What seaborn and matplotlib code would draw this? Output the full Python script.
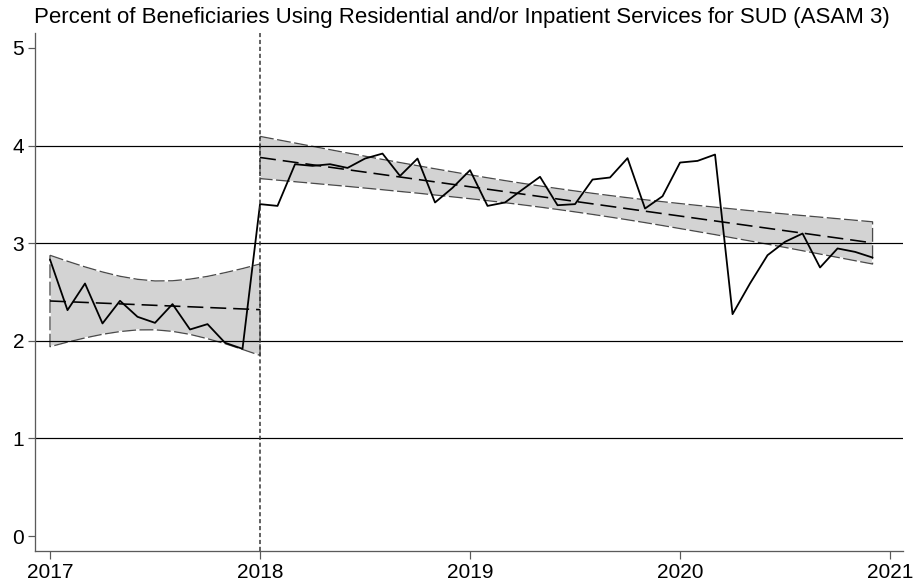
import numpy as np
import pandas as pd
import matplotlib
matplotlib.use("Agg")
import matplotlib.pyplot as plt
import seaborn as sns

# ---------------- data ----------------
title = "Percent of Beneficiaries Using Residential and/or Inpatient Services for SUD (ASAM 3)"
year_ticks = [2017, 2018, 2019, 2020, 2021]
y_ticks = [0, 1, 2, 3, 4, 5]
cutoff_year = 2018

# monthly observations Jan 2017 - Dec 2017
pre_values = [2.833, 2.314, 2.587, 2.178, 2.410, 2.246, 2.184, 2.376, 2.116,
              2.171, 1.980, 1.918]
# monthly observations Jan 2018 - Dec 2020
post_values = [3.400, 3.382, 3.809, 3.792, 3.809, 3.771, 3.867, 3.918, 3.689,
               3.867, 3.417, 3.567, 3.748, 3.382, 3.417, 3.550, 3.680, 3.389,
               3.400, 3.652, 3.673, 3.871, 3.355, 3.481, 3.826, 3.843, 3.908,
               2.273, 2.588, 2.877, 3.014, 3.099, 2.751, 2.946, 2.911, 2.853]

# linear fits (month index from Jan 2017)
pre_fit_months = [0, 12]
pre_fit_values = [2.408, 2.319]
post_fit_months = [12, 47]
post_fit_values = [3.878, 3.003]

# confidence bands, one value per month
pre_band_months = list(range(0, 13))
pre_band_upper = [2.876, 2.815, 2.757, 2.705, 2.661, 2.630, 2.613, 2.615, 2.632,
                  2.660, 2.698, 2.740, 2.787]
pre_band_lower = [1.940, 1.987, 2.030, 2.067, 2.095, 2.112, 2.113, 2.097, 2.066,
                  2.022, 1.971, 1.912, 1.851]
post_band_months = list(range(12, 48))
post_band_upper = [4.094, 4.060, 4.026, 3.992, 3.958, 3.924, 3.891, 3.858, 3.826,
                   3.794, 3.762, 3.731, 3.700, 3.670, 3.641, 3.613, 3.586, 3.560,
                   3.535, 3.511, 3.488, 3.466, 3.445, 3.425, 3.406, 3.387, 3.369,
                   3.351, 3.333, 3.316, 3.299, 3.283, 3.267, 3.251, 3.235, 3.219]
post_band_lower = [3.662, 3.646, 3.630, 3.614, 3.598, 3.582, 3.565, 3.548, 3.530,
                   3.513, 3.494, 3.475, 3.456, 3.436, 3.415, 3.393, 3.370, 3.346,
                   3.321, 3.295, 3.268, 3.240, 3.211, 3.181, 3.150, 3.119, 3.088,
                   3.055, 3.023, 2.990, 2.957, 2.923, 2.889, 2.855, 2.821, 2.787]

# ---------------- styling ----------------
sns.set_style("white")
plt.rcParams["font.family"] = ["Liberation Sans", "DejaVu Sans"]
plt.rcParams["lines.scale_dashes"] = False

PX = 0.72  # points per pixel at dpi 100


def to_year(months):
    return 2017 + np.asarray(months, dtype=float) / 12.0


obs = pd.DataFrame({
    "x": to_year(np.arange(len(pre_values) + len(post_values))),
    "y": pre_values + post_values,
})
fits = pd.DataFrame({
    "x": np.concatenate([to_year(pre_fit_months), to_year(post_fit_months)]),
    "y": pre_fit_values + post_fit_values,
    "seg": ["pre"] * len(pre_fit_values) + ["post"] * len(post_fit_values),
})

fig = plt.figure(figsize=(9.13, 5.87), dpi=100)
ax = fig.add_axes([35 / 913, 1 - 550.7 / 587, (903 - 35) / 913, (550.7 - 33.3) / 587])

band_fill = "#d3d3d3"
edge_dark = "#4a4a4a"
for months, up, lo in [(pre_band_months, pre_band_upper, pre_band_lower),
                       (post_band_months, post_band_upper, post_band_lower)]:
    xs = to_year(months)
    ax.fill_between(xs, lo, up, color=band_fill, lw=0, zorder=1)
    ox = np.concatenate([xs, xs[::-1], xs[:1]])
    oy = np.concatenate([np.asarray(up), np.asarray(lo)[::-1], np.asarray(up)[:1]])
    ax.plot(ox, oy, color="white", lw=1.0 * PX * 1.3, zorder=1.5)
    ax.plot(ox, oy, color=edge_dark, lw=1.0 * PX * 1.3, dashes=(10, 2.5), zorder=1.6)

# horizontal grid lines at interior ticks
for yv in y_ticks[1:-1]:
    ax.axhline(yv, color="black", lw=1.0 * PX * 1.2, zorder=2)

# linear fits (dashed)
for seg in ["pre", "post"]:
    sub = fits[fits["seg"] == seg]
    sns.lineplot(data=sub, x="x", y="y", ax=ax, color="black", lw=1.6 * PX,
                 dashes=False, zorder=3, legend=False)
for line in ax.lines[-2:]:
    line.set_dashes((11.5, 5))

# observed series
sns.lineplot(data=obs, x="x", y="y", ax=ax, color="black", lw=1.8 * PX,
             zorder=4, legend=False)

# intervention line
ax.axvline(cutoff_year, color="#333333", lw=1.5 * PX, dashes=(3, 2), zorder=5)

ax.set_xlim(2017 - 0.857 / 12, 2017 + 48.74 / 12)
ax.set_ylim(-0.15, 5.15)
ax.set_xticks(year_ticks)
ax.set_xticklabels([str(y) for y in year_ticks])
ax.set_yticks(y_ticks)
ax.set_yticklabels([str(y) for y in y_ticks])
ax.set_xlabel("")
ax.set_ylabel("")

for side in ["top", "right"]:
    ax.spines[side].set_visible(False)
for side in ["left", "bottom"]:
    ax.spines[side].set_color("#5a5a5a")
    ax.spines[side].set_linewidth(1.3 * PX)

ax.tick_params(axis="y", which="major", direction="out", length=6.7 * PX,
               width=1.2 * PX, color="#5a5a5a", pad=3.0, labelsize=15,
               labelcolor="black", left=True)
ax.tick_params(axis="x", which="major", direction="out", length=7.7 * PX,
               width=1.2 * PX, color="#5a5a5a", pad=3.0, labelsize=15,
               labelcolor="black", bottom=True)

fig.text(462 / 913, 1 - 18 / 587, title, ha="center", va="center", fontsize=16,
         color="black")

fig.savefig("out.png", dpi=100)
